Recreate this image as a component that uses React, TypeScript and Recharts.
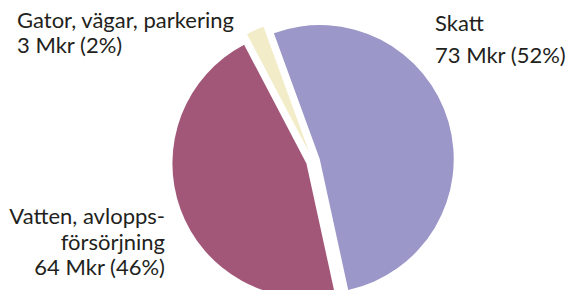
import React from 'react';
import { PieChart, Pie, Cell, Sector } from 'recharts';

// Budget split, Mkr
const names = ['Skatt', 'Vatten, avloppsförsörjning', 'Gator, vägar, parkering'];
const nameLines = [['Skatt'], ['Vatten, avlopps-', 'försörjning'], ['Gator, vägar, parkering']];
const values = [73, 64, 3];
const colors = ['#9b97c8', '#a25778', '#f2ecc8'];
const explode = [7, 7, 9];

const total = values.reduce((s, v) => s + v, 0);
const data = names.map((name, i) => ({ name, value: values[i] }));

// where each label block sits, its alignment and line spacing
const labelLayout = [
  { x: 435, y: 31, anchor: 'start', lh: 32 },
  { x: 165, y: 224, anchor: 'end', lh: 25.5 },
  { x: 17, y: 28, anchor: 'start', lh: 25 },
];

const RAD = Math.PI / 180;

const renderSector = (props: any) => {
  const i = props.index ?? data.findIndex((d) => d.name === props.name);
  const d = explode[i] ?? 0;
  const dx = d * Math.cos(props.midAngle * RAD);
  const dy = -d * Math.sin(props.midAngle * RAD);
  return <Sector {...props} cx={props.cx + dx} cy={props.cy + dy} stroke="none" />;
};

export default function App() {
  return (
    <div style={{ position: 'absolute', left: 0, top: 0, width: 569, height: 290, background: '#fff' }}>
      <PieChart width={569} height={290}>
        <Pie
          data={data}
          dataKey="value"
          nameKey="name"
          cx={308}
          cy={156}
          outerRadius={134}
          startAngle={110}
          endAngle={-250}
          stroke="none"
          shape={renderSector}
          inactiveShape={renderSector}
          activeShape={renderSector}
          isAnimationActive={false}
        >
          {data.map((d, i) => (
            <Cell key={d.name} fill={colors[i]} />
          ))}
        </Pie>
      </PieChart>
      <svg
        width={569}
        height={290}
        style={{ position: 'absolute', left: 0, top: 0, pointerEvents: 'none' }}
      >
        {data.map((d, i) => {
          const lay = labelLayout[i];
          const lines = [...nameLines[i], `${d.value} Mkr (${Math.round((d.value / total) * 100)}%)`];
          return (
            <text
              key={d.name}
              x={lay.x}
              y={lay.y}
              textAnchor={lay.anchor as any}
              fontFamily="Lato, 'Open Sans', sans-serif"
              fontSize={22}
              fill="#231f20"
            >
              {lines.map((ln, k) => (
                <tspan key={k} x={lay.x} dy={k === 0 ? 0 : lay.lh}>
                  {ln}
                </tspan>
              ))}
            </text>
          );
        })}
      </svg>
    </div>
  );
}
